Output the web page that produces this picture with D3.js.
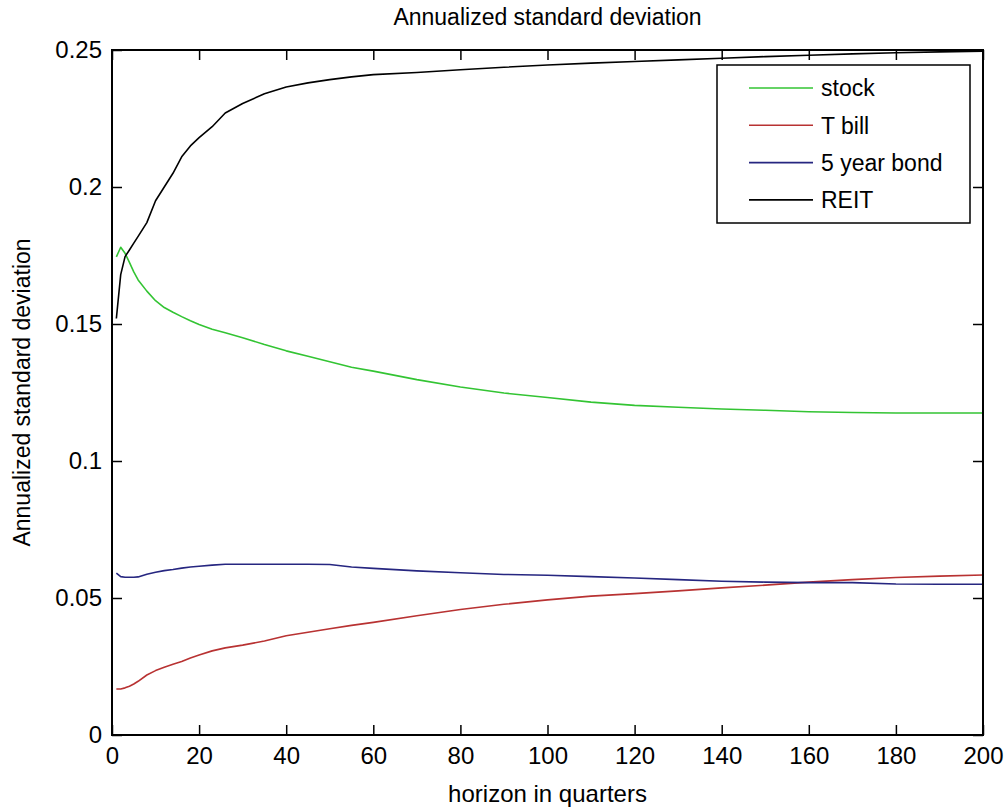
<!DOCTYPE html>
<html>
<head>
<meta charset="utf-8">
<script src="https://cdn.jsdelivr.net/npm/d3@7"></script>
<style>
  html, body { margin: 0; padding: 0; background: #fff; }
  svg { display: block; }
  text { font-family: "Liberation Sans", Arial, sans-serif; fill: #000; }
</style>
</head>
<body>
<svg id="chart" width="1006" height="810"></svg>
<script>
// Horizon (quarters) at which each series is sampled
const horizon = [1,2,3,4,5,6,8,10,12,14,16,18,20,23,26,30,35,40,45,50,55,60,70,80,90,100,110,120,130,140,150,160,170,180,190,200];

// Annualized standard deviation by asset class
const stock = [0.1745,0.178,0.1758,0.1725,0.169,0.1661,0.162,0.1585,0.156,0.1543,0.1527,0.1512,0.1498,0.1481,0.1468,0.145,0.1425,0.1402,0.1382,0.1362,0.1342,0.1328,0.1297,0.127,0.1248,0.1232,0.1215,0.1203,0.1196,0.119,0.1185,0.118,0.1177,0.1175,0.1175,0.1175];
const tbill = [0.0168,0.0168,0.0172,0.0178,0.0186,0.0196,0.0219,0.0235,0.0247,0.0258,0.0268,0.0281,0.0292,0.0307,0.0318,0.0328,0.0343,0.0362,0.0375,0.0388,0.04,0.0411,0.0435,0.0458,0.0477,0.0493,0.0507,0.0516,0.0526,0.0537,0.0547,0.0558,0.0567,0.0575,0.058,0.0584];
const bond5 = [0.0591,0.0578,0.0576,0.0576,0.0576,0.0577,0.0587,0.0594,0.06,0.0604,0.0609,0.0613,0.0616,0.062,0.0623,0.0623,0.0623,0.0623,0.0623,0.0622,0.0613,0.0608,0.0599,0.0592,0.0586,0.0583,0.0578,0.0573,0.0567,0.0561,0.0558,0.0556,0.0556,0.0551,0.055,0.055];
const reit  = [0.152,0.168,0.1746,0.177,0.1795,0.182,0.187,0.195,0.2,0.205,0.211,0.215,0.218,0.222,0.227,0.2305,0.234,0.2365,0.238,0.2392,0.2402,0.241,0.2418,0.2428,0.2437,0.2445,0.2452,0.2458,0.2464,0.247,0.2476,0.2481,0.2486,0.249,0.2493,0.2496];

const seriesNames = ["stock", "T bill", "5 year bond", "REIT"];
const seriesValues = [stock, tbill, bond5, reit];
const seriesColors = ["#33c433", "#b83232", "#262680", "#000000"];

const xTicks = [0,20,40,60,80,100,120,140,160,180,200];
const yTicks = [0,0.05,0.1,0.15,0.2,0.25];
const yTickLabels = ["0","0.05","0.1","0.15","0.2","0.25"];

const titleText = "Annualized standard deviation";
const xLabelText = "horizon in quarters";
const yLabelText = "Annualized standard deviation";

const margin = {left: 112, right: 23, top: 50, bottom: 75};
const W = 1006, H = 810;
const iw = W - margin.left - margin.right;
const ih = H - margin.top - margin.bottom;

const svg = d3.select("#chart");
const g = svg.append("g").attr("transform", `translate(${margin.left},${margin.top})`);

const x = d3.scaleLinear().domain([0, 200]).range([0, iw]);
const y = d3.scaleLinear().domain([0, 0.25]).range([ih, 0]);

const fontSize = 23;
const tickFontSize = 24;

// Data lines
const line = d3.line().x((d, i) => x(horizon[i])).y(d => y(d));
seriesValues.forEach((vals, k) => {
  g.append("path")
    .datum(vals)
    .attr("fill", "none")
    .attr("stroke", seriesColors[k])
    .attr("stroke-width", 1.6)
    .attr("stroke-linejoin", "round")
    .attr("d", line);
});

// Axes with inward ticks on all four sides
const tickLen = 10;
const bottomAxis = d3.axisBottom(x).tickValues(xTicks).tickSize(-tickLen).tickPadding(12).tickFormat(d3.format("d"));
const topAxis = d3.axisTop(x).tickValues(xTicks).tickSize(-tickLen).tickFormat("");
const leftAxis = d3.axisLeft(y).tickValues(yTicks).tickSize(-tickLen).tickPadding(10).tickFormat((d, i) => yTickLabels[i]);
const rightAxis = d3.axisRight(y).tickValues(yTicks).tickSize(-tickLen).tickFormat("");

function styleAxis(sel) {
  sel.select(".domain").remove();
  sel.selectAll(".tick line").attr("stroke", "#000").attr("stroke-width", 1.5);
  sel.selectAll(".tick text").style("font-size", tickFontSize + "px").attr("fill", "#000");
}

g.append("g").attr("transform", `translate(0,${ih})`).call(bottomAxis).call(styleAxis);
g.append("g").call(topAxis).call(styleAxis);
g.append("g").call(leftAxis).call(styleAxis);
g.append("g").attr("transform", `translate(${iw},0)`).call(rightAxis).call(styleAxis);

// Plot frame
g.append("rect")
  .attr("x", 0).attr("y", 0).attr("width", iw).attr("height", ih)
  .attr("fill", "none").attr("stroke", "#000").attr("stroke-width", 2);

// Title and axis labels
svg.append("text")
  .attr("x", margin.left + iw / 2).attr("y", 25)
  .attr("text-anchor", "middle")
  .style("font-size", fontSize + "px")
  .text(titleText);

svg.append("text")
  .attr("x", margin.left + iw / 2).attr("y", 802)
  .attr("text-anchor", "middle")
  .style("font-size", "24px")
  .text(xLabelText);

svg.append("text")
  .attr("transform", `translate(30,${margin.top + ih / 2}) rotate(-90)`)
  .attr("text-anchor", "middle")
  .style("font-size", fontSize + "px")
  .text(yLabelText);

// Legend
const legend = svg.append("g").attr("transform", "translate(717,65)");
legend.append("rect")
  .attr("width", 253).attr("height", 158)
  .attr("fill", "#fff").attr("stroke", "#000").attr("stroke-width", 1.5);
seriesNames.forEach((name, k) => {
  const cy = 23 + k * 37.3;
  legend.append("line")
    .attr("x1", 32).attr("x2", 96).attr("y1", cy).attr("y2", cy)
    .attr("stroke", seriesColors[k]).attr("stroke-width", 1.6);
  legend.append("text")
    .attr("x", 104).attr("y", cy)
    .attr("dy", "0.36em")
    .style("font-size", fontSize + "px")
    .text(name);
});
</script>
</body>
</html>
